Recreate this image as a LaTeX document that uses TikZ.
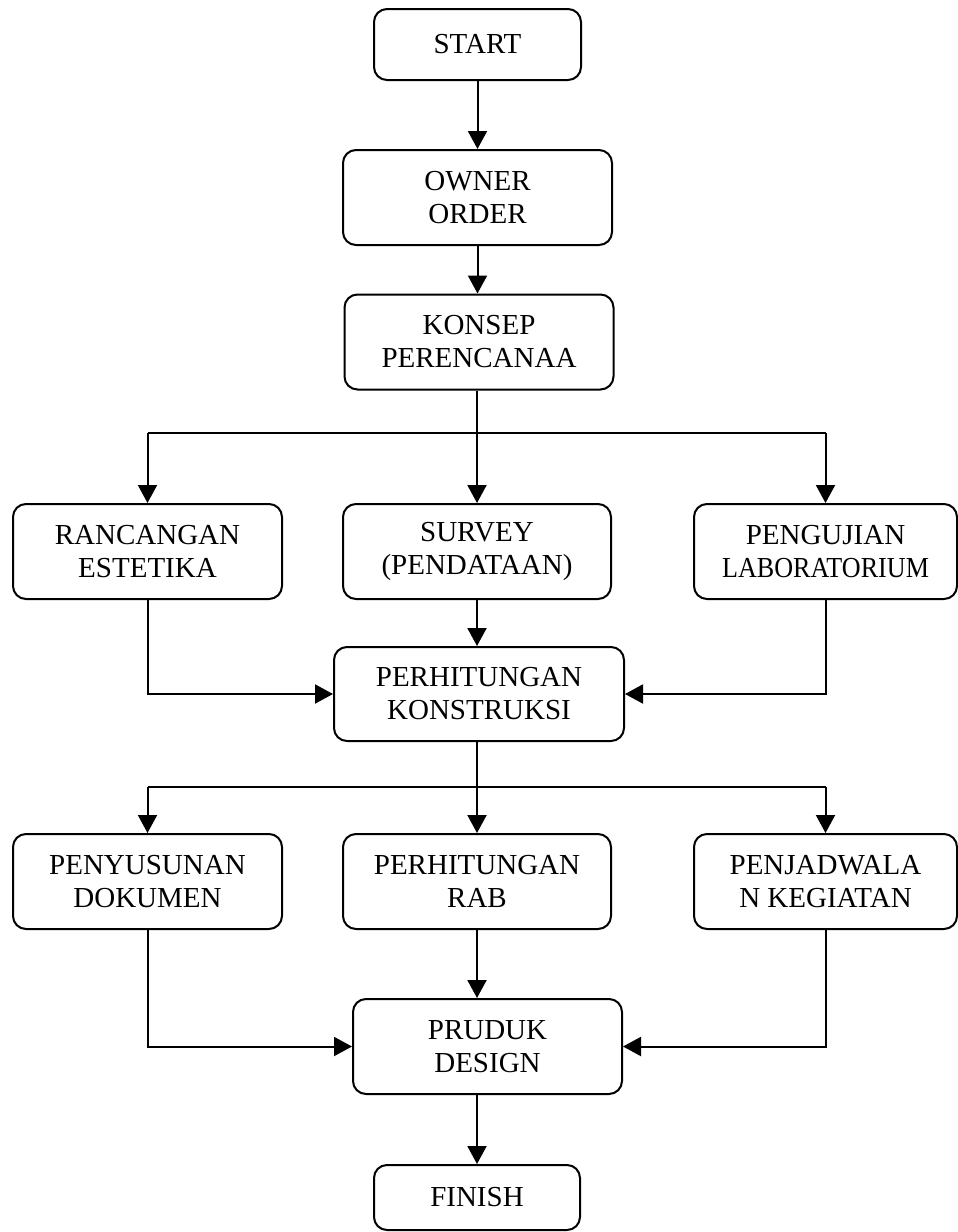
\documentclass[tikz,border=0pt]{standalone}
\usepackage{fontspec}
\usepackage{graphicx}
\setmainfont{Liberation Serif}
\usetikzlibrary{arrows.meta}
\begin{document}
\begin{tikzpicture}[x=1pt,y=-1pt,
  box/.style={draw, line width=2pt, rounded corners=13pt, align=center, inner sep=0pt,
              font=\fontsize{29}{33}\selectfont},
  wide/.style={minimum width=269pt, minimum height=95pt},
  arr/.style={line width=2pt, -{Triangle[length=18pt,width=19pt]}},
  ln/.style={line width=2pt}]
\useasboundingbox (0,0) rectangle (958,1232);

% nodes
\node[box, minimum width=207pt, minimum height=71pt] (start) at (477.5,44.5) {START};
\node[box, wide] (owner) at (477.5,197.5) {OWNER\\ORDER};
\node[box, wide] (konsep) at (479,342) {KONSEP\\PERENCANAA};

\node[box, wide] (ranc) at (147.5,551.5) {RANCANGAN\\ESTETIKA};
\node[box, minimum width=268pt, minimum height=95pt] (survey) at (477,551.5) {SURVEY\\(PENDATAAN)};
\node[box, minimum width=263pt, minimum height=95pt] (uji) at (825.5,551.5) {PENGUJIAN\\\scalebox{0.9}[1]{LABORATORIUM}};

\node[box, minimum width=290pt, minimum height=94pt] (hitk) at (479,694) {PERHITUNGAN\\KONSTRUKSI};

\node[box, wide] (susun) at (147.5,881.5) {PENYUSUNAN\\DOKUMEN};
\node[box, minimum width=268pt, minimum height=95pt] (rab) at (477,881.5) {PERHITUNGAN\\RAB};
\node[box, minimum width=263pt, minimum height=95pt] (jadwal) at (825.5,881.5) {PENJADWALA\\N KEGIATAN};

\node[box, minimum width=269pt, minimum height=95pt] (produk) at (487.5,1046.5) {PRUDUK\\DESIGN};
\node[box, minimum width=206pt, minimum height=65pt] (finish) at (477,1197.5) {FINISH};

% branch coordinates
\coordinate (b1) at (477,433);
\coordinate (b1l) at (147.5,433);
\coordinate (b1r) at (825.5,433);
\coordinate (b2) at (477,787);
\coordinate (b2l) at (147.5,787);
\coordinate (b2r) at (825.5,787);

% connectors
\draw[arr] (start) -- (owner);
\draw[arr] (owner) -- (konsep.north -| owner);
\draw[ln] (konsep.south -| b1) -- (b1);
\draw[ln] (b1l) -- (b1r);
\draw[arr] (b1l) -- (ranc);
\draw[arr] (b1) -- (survey);
\draw[arr] (b1r) -- (uji);

\draw[arr] (ranc.south) |- (hitk.west);
\draw[arr] (uji.south) |- (hitk.east);
\draw[arr] (survey.south) -- (survey.south |- hitk.north);

\draw[ln] (hitk.south -| b2) -- (b2);
\draw[ln] (b2l) -- (b2r);
\draw[arr] (b2l) -- (susun);
\draw[arr] (b2) -- (rab);
\draw[arr] (b2r) -- (jadwal);

\draw[arr] (susun.south) |- (produk.west);
\draw[arr] (jadwal.south) |- (produk.east);
\draw[arr] (rab.south) -- (rab.south |- produk.north);
\draw[arr] (produk.south -| finish) -- (finish.north);
\end{tikzpicture}
\end{document}
